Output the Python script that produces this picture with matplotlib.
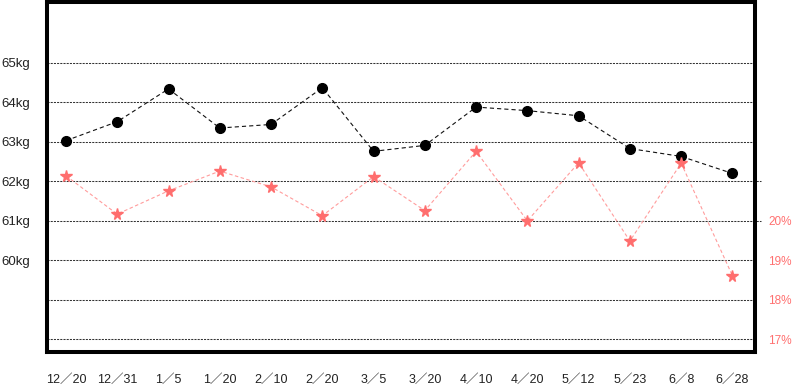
#!/usr/bin/env python
"""
Weight (kg) and body fat (%) log, Dec - Jun
"""
import matplotlib
matplotlib.use('Agg')
import matplotlib.pyplot as plt
from matplotlib import font_manager

dates = ['12／20', '12／31', '1／5', '1／20', '2／10', '2／20', '3／5', '3／20',
         '4／10', '4／20', '5／12', '5／23', '6／8', '6／28']
weight_kg = [63.03, 63.51, 64.34, 63.35, 63.44, 64.37, 62.76, 62.91,
             63.88, 63.79, 63.66, 62.83, 62.63, 62.20]
body_fat = [21.14, 20.17, 20.76, 21.26, 20.86, 20.13, 21.12, 20.26,
            21.76, 20.00, 21.47, 19.49, 21.46, 18.61]
kg_ticks = [60, 61, 62, 63, 64, 65]
pct_ticks = [17, 18, 19, 20]
grid_kg = [58, 59, 60, 61, 62, 63, 64, 65]


def pick_font():
    for name in ['Liberation Sans Narrow', 'Liberation Sans']:
        try:
            font_manager.findfont(font_manager.FontProperties(family=name),
                                  fallback_to_default=False)
            return name
        except ValueError:
            pass
    return 'DejaVu Sans'


def main():
    base = pick_font()
    families = [base, 'Noto Sans CJK JP', 'DejaVu Sans']
    plt.rcParams['font.family'] = families
    plt.rcParams['lines.scale_dashes'] = False

    fig = plt.figure(figsize=(7.93, 3.9), dpi=100)
    ax = fig.add_axes([47 / 793, 38 / 390, 708 / 793, 350 / 390])
    x = list(range(len(dates)))

    # dotted horizontal guide lines
    for v in grid_kg:
        ext = 1.008 if v in (61, 62) else 1.0
        ax.axhline(v, xmin=0, xmax=ext, color='#333333', lw=0.75,
                   ls=(0, (1.5, 0.8)), clip_on=False, zorder=1)

    ax.plot(x, weight_kg, color='#111111', lw=0.8, ls=(0, (3, 2.2)),
            marker='o', ms=7, mfc='black', mec='black', zorder=3)

    ax.set_xlim(-0.37, 13.44)
    ax.set_ylim(57.68, 66.54)

    ax.set_xticks(x, dates)
    ax.set_yticks(kg_ticks, ['%dkg' % v for v in kg_ticks])
    ax.tick_params(axis='x', length=0, pad=16, labelsize=9, colors='#222222')
    ax.tick_params(axis='y', length=0, pad=32.8, labelsize=9.5, colors='#222222')
    for lbl in ax.get_yticklabels():
        lbl.set_horizontalalignment('left')

    for s in ax.spines.values():
        s.set_linewidth(2.9)
        s.set_color('black')
        s.set_capstyle('projecting')

    # body fat on the right-hand scale
    ax2 = ax.twinx()
    ax2.plot(x, body_fat, color='#ff9c9c', lw=0.8, ls=(0, (2.5, 1.8)),
             marker='*', ms=8.5, mfc='#ff6e6e', mec='#ff6e6e', zorder=3)
    ax2.set_ylim(57.68 - 41, 66.54 - 41)
    ax2.set_yticks(pct_ticks, ['%d%%' % v for v in pct_ticks])
    ax2.tick_params(axis='y', length=0, pad=9.6, labelsize=8.5, colors='#ff7070')
    for s in ax2.spines.values():
        s.set_visible(False)

    fig.savefig('out.png', dpi=100)


if __name__ == '__main__':
    main()
